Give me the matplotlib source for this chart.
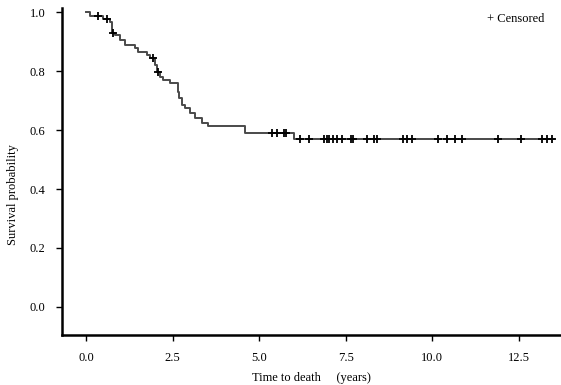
import matplotlib
matplotlib.use('Agg')
import matplotlib.pyplot as plt
import numpy as np

plt.rcParams['font.family'] = 'Liberation Serif'

# step curve: times where survival drops and the level after each drop
drop_times = [0.0, 0.12, 0.49, 0.69, 0.75, 0.84, 0.98, 1.12, 1.41, 1.50, 1.76, 1.84,
              1.99, 2.05, 2.13, 2.22, 2.42, 2.65, 2.70, 2.77, 2.85, 3.00, 3.14,
              3.34, 3.52, 4.58, 6.00]
surv_levels = [1.0, 0.986, 0.976, 0.966, 0.929, 0.922, 0.905, 0.888, 0.878, 0.864,
               0.854, 0.844, 0.82, 0.797, 0.78, 0.769, 0.759, 0.73, 0.71, 0.685,
               0.675, 0.658, 0.641, 0.624, 0.614, 0.59, 0.571]
end_time = 13.5

censor_times = [0.35, 0.60, 0.78, 1.93, 2.08, 5.36, 5.53, 5.73, 5.79,
                6.17, 6.43, 6.86, 6.95, 7.03, 7.12, 7.26, 7.38, 7.64, 7.72,
                8.10, 8.33, 8.41, 9.14, 9.28, 9.42, 10.17, 10.43, 10.66, 10.86,
                11.90, 12.56, 13.17, 13.31, 13.46]

x_ticks = [0.0, 2.5, 5.0, 7.5, 10.0, 12.5]
y_ticks = [0.0, 0.2, 0.4, 0.6, 0.8, 1.0]

fig = plt.figure(figsize=(5.61, 3.85), dpi=100)
ax = fig.add_axes([0.1105, 0.13, 0.888, 0.849])

t = np.array(drop_times + [end_time])
s = np.array(surv_levels + [surv_levels[-1]])
ax.step(t, s, where='post', color='#4a4a4a', lw=1.4)

# censor marks sit on the curve
idx = np.searchsorted(drop_times, censor_times, side='right') - 1
cs = np.array(surv_levels)[idx]
ax.plot(censor_times, cs, linestyle='none', marker='+', color='black',
        ms=6, mew=1.3)

ax.text(0.968, 0.966, '+ Censored', transform=ax.transAxes, ha='right',
        va='center', fontsize=9)

ax.set_xlim(-0.69, 13.69)
ax.set_ylim(-0.095, 1.0136)
ax.set_xticks(x_ticks)
ax.set_xticklabels([f'{v:.1f}' for v in x_ticks])
ax.set_yticks(y_ticks)
ax.set_yticklabels([f'{v:.1f}' for v in y_ticks])
ax.tick_params(labelsize=9, length=4, width=1, pad=8)

ax.set_xlabel('Time to death     (years)', fontsize=9, labelpad=6)
ax.set_ylabel('Survival probability', fontsize=9)
ax.yaxis.set_label_coords(-0.086, 0.43)

for side in ['top', 'right']:
    ax.spines[side].set_visible(False)
for side in ['left', 'bottom']:
    ax.spines[side].set_linewidth(1.8)

plt.savefig('out.png', dpi=100)
